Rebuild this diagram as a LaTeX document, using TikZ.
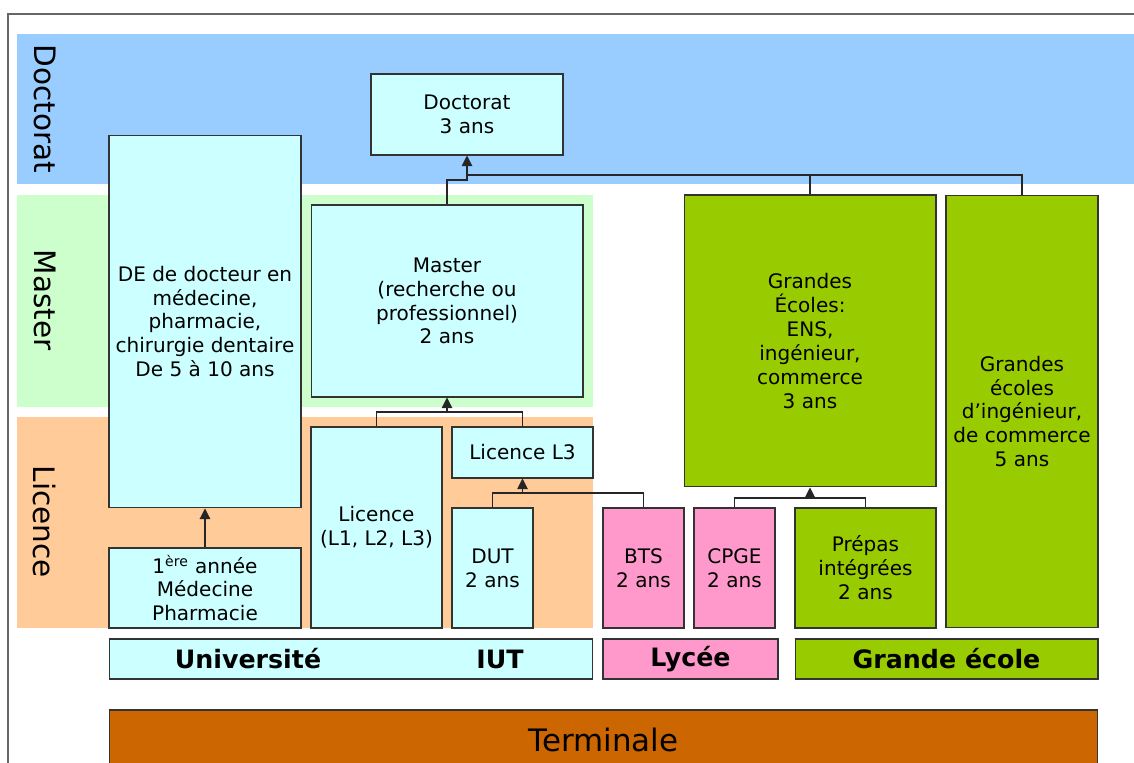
\documentclass[tikz,border=0pt]{standalone}
\usepackage{fontspec}
\setmainfont{DejaVu Sans}
\usetikzlibrary{arrows.meta}
\definecolor{bleuDoc}{HTML}{99CCFF}
\definecolor{vertMas}{HTML}{CCFFCC}
\definecolor{orangeLic}{HTML}{FFCC99}
\definecolor{cyanBoite}{HTML}{CCFFFF}
\definecolor{roseBoite}{HTML}{FF99CC}
\definecolor{vertBoite}{HTML}{99CC00}
\definecolor{brunTerm}{HTML}{CC6600}
\definecolor{trait}{HTML}{333333}
\begin{document}
\begin{tikzpicture}[x=0.02cm, y=-0.02cm,
    boite/.style={draw=trait, line width=0.6pt, align=center, inner sep=1pt,
      font=\fontsize{11.4}{13.6}\selectfont},
    univ/.style={boite, fill=cyanBoite},
    lycee/.style={boite, fill=roseBoite},
    ecole/.style={boite, fill=vertBoite},
    barre/.style={draw=trait, line width=0.6pt, minimum height=0.8cm},
    titre/.style={font=\fontsize{14.4}{16}\selectfont\bfseries},
    niveau/.style={rotate=-90, font=\fontsize{16.8}{18}\selectfont},
    lien/.style={draw=black!85, line width=0.6pt},
    fleche/.style={lien, -{Triangle[length=6pt, width=6pt]}}]
    \clip (0,0) rectangle (1134,763);
    % cadre et bandes de niveau
    \draw[draw=black!60, line width=1.2pt] (8,14) rectangle (1150,790);
    \fill[bleuDoc] (17,34) rectangle (1134,184);
    \fill[vertMas] (17,195) rectangle (593,407);
    \fill[orangeLic] (17,417) rectangle (593,628);
    \node[niveau] (nDoc) at (45,109) {Doctorat};
    \node[niveau] (nMas) at (45,300) {Master};
    \node[niveau] (nLic) at (45,522) {Licence};
    % formations
    \node[univ, minimum width=3.84cm, minimum height=7.46cm] (de) at (205,321.5) {DE de docteur en\\médecine,\\pharmacie,\\chirurgie dentaire\\De 5 à 10 ans};
    \node[univ, minimum width=3.84cm, minimum height=1.6cm] (pace) at (205,588) {1\textsuperscript{ère} année\\Médecine\\Pharmacie};
    \node[univ, minimum width=3.84cm, minimum height=1.62cm] (doctorat) at (467,114.5) {Doctorat\\3 ans};
    \node[univ, minimum width=5.44cm, minimum height=3.84cm] (master) at (447,301) {Master\\(recherche ou\\professionnel)\\2 ans};
    \node[univ, minimum width=2.62cm, minimum height=4.02cm] (licence) at (376.5,527.5) {Licence\\(L1, L2, L3)};
    \node[univ, minimum width=2.82cm, minimum height=1.02cm] (l3) at (522.5,452.5) {Licence L3};
    \node[univ, minimum width=1.62cm, minimum height=2.4cm] (dut) at (492.5,568) {DUT\\2 ans};
    \node[lycee, minimum width=1.62cm, minimum height=2.4cm] (bts) at (643.5,568) {BTS\\2 ans};
    \node[lycee, minimum width=1.62cm, minimum height=2.4cm] (cpge) at (734.5,568) {CPGE\\2 ans};
    \node[ecole, minimum width=2.82cm, minimum height=2.4cm] (prepas) at (865.5,568) {Prépas\\intégrées\\2 ans};
    \node[ecole, minimum width=5.04cm, minimum height=5.84cm] (ge) at (810,341) {Grandes\\Écoles:\\ENS,\\ingénieur,\\commerce\\3 ans};
    \node[ecole, minimum width=3.04cm, minimum height=8.66cm] (gei) at (1022,411.5) {Grandes\\écoles\\d’ingénieur,\\de commerce\\5 ans};
    % etablissements
    \node[barre, fill=cyanBoite, minimum width=9.68cm] (bUniv) at (351,659) {};
    \node[titre] (tUniv) at (248,659) {Université};
    \node[titre] (tIUT) at (500,659) {IUT};
    \node[barre, fill=roseBoite, minimum width=3.5cm, titre] (bLycee) at (690.5,659) {Lycée};
    \node[barre, fill=vertBoite, minimum width=6.06cm, titre] (bEcole) at (946.5,659) {Grande école};
    \node[draw=trait, line width=0.6pt, fill=brunTerm, minimum width=19.78cm, minimum height=1.2cm,
      font=\fontsize{17.6}{20}\selectfont] (terminale) at (603.5,740) {Terminale};
    % liaisons
    \coordinate (jDoc) at (467,180);
    \coordinate (jHaut) at (467,175);
    \coordinate (jMas) at (447,412);
    \coordinate (jL3) at (522.5,493);
    \coordinate (jGE) at (810,498);
    \draw[fleche] (master.north) |- (jDoc) -- (doctorat.south);
    \draw[lien] (jHaut) -| (ge.north);
    \draw[lien] (jHaut) -| (gei.north);
    \draw[lien] (licence.north) |- (jMas) -| (l3.north);
    \draw[fleche] (jMas) -- (master.south);
    \draw[lien] (dut.north) |- (jL3) -| (bts.north);
    \draw[fleche] (jL3) -- (l3.south);
    \draw[lien] (cpge.north) |- (jGE) -| (prepas.north);
    \draw[fleche] (jGE) -- (ge.south);
    \draw[fleche] (pace.north) -- (de.south);
\end{tikzpicture}
\end{document}
